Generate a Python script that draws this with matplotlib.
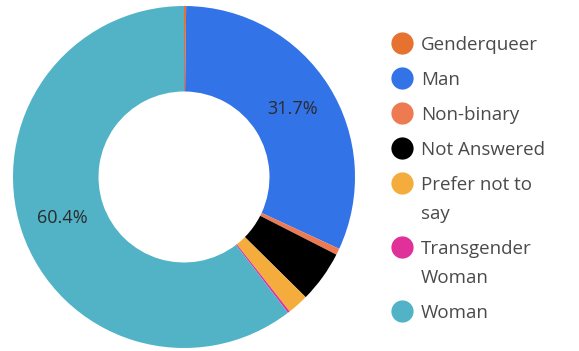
import matplotlib.pyplot as plt

# share of respondents by gender (percent)
labels = ["Genderqueer", "Man", "Non-binary", "Not Answered",
          "Prefer not to say", "Transgender Woman", "Woman"]
legend_text = ["Genderqueer", "Man", "Non-binary", "Not Answered",
               "Prefer not to\nsay", "Transgender\nWoman", "Woman"]
shares = [0.2, 31.7, 0.6, 4.9, 2.0, 0.2, 60.4]
colors = ["#e5722f", "#3373e8", "#ee7a52", "#000000",
          "#f4ad3d", "#e0309a", "#52b3c7"]

plt.rcParams["font.family"] = ["Open Sans", "DejaVu Sans"]

W, H = 579, 351
fig = plt.figure(figsize=(W / 100, H / 100), dpi=100)

# donut
R = 171
cx, cy = 184, 174
ax = fig.add_axes([(cx - R) / W, (cy - R) / H, 2 * R / W, 2 * R / H])
wedges, _, autotexts = ax.pie(
    shares,
    colors=colors,
    startangle=90,
    counterclock=False,
    radius=1.0,
    wedgeprops=dict(width=0.5, linewidth=0),
    autopct=lambda p: f"{p:.1f}%" if p > 10 else "",
    pctdistance=0.75,
    textprops=dict(fontsize=13, color="#2b2b2b"),
)
ax.set_xlim(-1, 1)
ax.set_ylim(-1, 1)
ax.set_aspect("equal")
ax.axis("off")

# legend drawn by hand so wrapped labels sit top-aligned with their dot
lax = fig.add_axes([0, 0, 1, 1])
lax.set_xlim(0, W)
lax.set_ylim(H, 0)
lax.axis("off")

y = 43
for text, color in zip(legend_text, colors):
    lax.plot(402, y, "o", ms=16, color=color, mec="none")
    for i, line in enumerate(text.split("\n")):
        lax.text(421, y + 29 * i, line, fontsize=13.5, color="#4a4a4a",
                 va="center_baseline", ha="left")
    y += 35 + 29 * text.count("\n")

fig.savefig("out.png", dpi=100)
